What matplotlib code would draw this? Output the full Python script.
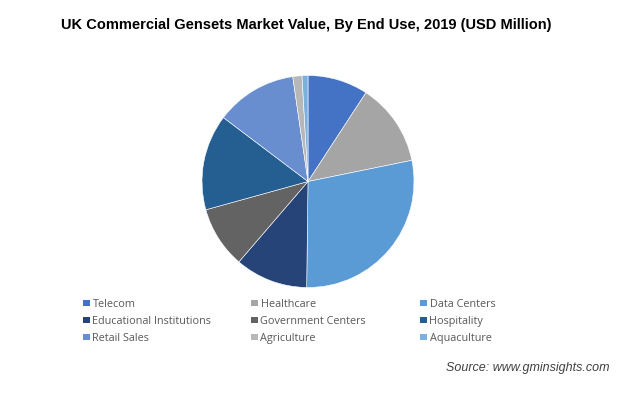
import matplotlib.pyplot as plt
from matplotlib.patches import Rectangle

# end-use segments, share of market value (%)
segments = ['Telecom', 'Healthcare', 'Data Centers',
            'Educational Institutions', 'Government Centers', 'Hospitality',
            'Retail Sales', 'Agriculture', 'Aquaculture']
shares = [9.2, 12.6, 28.4, 11.1, 9.4, 14.6, 12.4, 1.4, 0.9]
colours = ['#4472C4', '#A5A5A5', '#5B9BD5', '#264478', '#636363',
           '#255E91', '#698ED0', '#B7B7B7', '#7CAFDD']

W, H = 624, 395
fig = plt.figure(figsize=(W / 100, H / 100), dpi=100)

# pie centred at (308, 181) px, radius ~106 px
cx, cy, r = 308, 181.5, 106
ax = fig.add_axes([(cx - r) / W, 1 - (cy + r) / H, 2 * r / W, 2 * r / H])
ax.pie(shares, colors=colours, startangle=90, counterclock=False,
       wedgeprops=dict(edgecolor='white', linewidth=0.4))
ax.set_xlim(-1, 1)
ax.set_ylim(-1, 1)
ax.set_aspect('auto')
ax.axis('off')

fig.text(306 / W, 1 - 25.5 / H,
         'UK Commercial Gensets Market Value, By End Use, 2019 (USD Million)',
         ha='center', va='center', fontsize=10.5, fontweight='bold',
         family='Liberation Sans', color='black')

# legend, 3 columns laid out by hand
col_x = [83, 251, 420]
row_y = [303, 320, 337]
sq = 6.5
for i, (name, c) in enumerate(zip(segments, colours)):
    x = col_x[i % 3]
    y = row_y[i // 3]
    fig.patches.append(Rectangle((x / W, 1 - (y + sq / 2) / H), sq / W, sq / H,
                                 transform=fig.transFigure, facecolor=c,
                                 edgecolor='none'))
    fig.text((x + 9.5) / W, 1 - y / H, name, ha='left', va='center_baseline',
             fontsize=7.8, family='Open Sans', color='#595959')

fig.text(610 / W, 1 - 368.5 / H, 'Source: www.gminsights.com',
         ha='right', va='center', fontsize=9, style='italic',
         family='Liberation Sans', color='#404040')

fig.savefig('out.png', dpi=100, facecolor='white')
